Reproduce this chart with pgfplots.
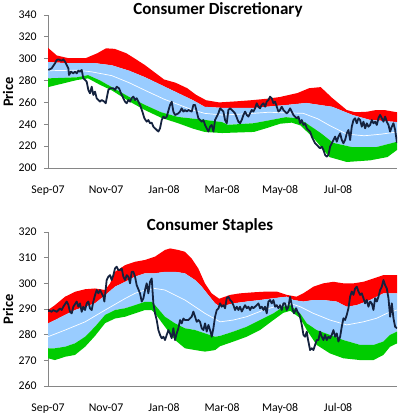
\documentclass[border=0pt]{standalone}
\usepackage{fontspec}
\setmainfont{Carlito}
\usepackage{pgfplots}
\pgfplotsset{compat=1.18}
\usepgfplotslibrary{fillbetween}
\definecolor{bbred}{RGB}{255,0,0}
\definecolor{bbgreen}{RGB}{0,204,0}
\definecolor{bbblue}{RGB}{153,204,255}
\definecolor{pricecol}{RGB}{20,34,62}
\definecolor{axgray}{RGB}{134,134,134}
\pgfplotsset{bb/.style={
  scale only axis, width=349bp, anchor=south west,
  xmin=0, xmax=12.03,
  axis lines*=left,
  axis line style={axgray, line width=0.8pt},
  xtick={0,2,4,6,8,10},
  xticklabels={Sep-07,Nov-07,Jan-08,Mar-08,May-08,Jul-08},
  xtick style={draw=none},
  ytick style={axgray, line width=0.8pt},
  tick align=outside,
  major tick length=4bp,
  ticklabel style={font=\fontsize{11.8bp}{13bp}\selectfont, text=black},
  /pgf/number format/assume math mode=true,
  xticklabel style={yshift=-10bp},
  yticklabel style={xshift=-4bp},
}}
\begin{document}
\begin{tikzpicture}
% ---------------- top ----------------
\begin{axis}[bb, at={(48bp,246bp)}, height=153bp, ymin=200, ymax=340, ytick={200,220,...,340}]
\addplot[draw=none, name path=RT] coordinates {(0,310) (0.3,303) (0.7,300.5) (1.3,300.5) (1.7,305) (2.0,309.5) (2.3,309) (2.7,305) (3.0,300) (3.35,294) (3.7,287) (4.0,281) (4.4,278) (4.8,273) (5.1,267) (5.45,262) (5.9,260) (6.5,261) (7.0,262) (7.6,263.5) (8.0,265) (8.6,268.6) (9.0,273) (9.4,274) (9.8,264) (10.3,253) (10.6,251) (11.0,251.5) (11.3,253) (11.6,253) (12.03,251)};
\addplot[draw=none, name path=BT] coordinates {(0,297) (0.6,296) (1.6,296) (2.2,294) (2.8,289) (3.35,283) (3.9,276) (4.48,268.6) (5.0,262) (5.4,256) (6.0,255) (7.1,255) (8.2,257.6) (8.9,259.5) (9.8,256) (10.5,248.5) (11.1,244) (11.6,243) (12.03,242)};
\addplot[draw=none, name path=BB] coordinates {(0,282) (1.0,283) (1.38,285) (1.8,280) (2.2,274) (2.8,265) (3.34,257.7) (3.9,251) (4.48,246.7) (5.4,244) (6.0,242) (6.2,239.5) (7.1,241) (7.7,244) (8.2,246.5) (8.6,245.5) (8.9,241) (9.4,232) (9.83,223) (10.5,219) (11.3,219) (12.03,224)};
\addplot[draw=none, name path=GB] coordinates {(0,274) (1.0,280.5) (1.38,282) (1.8,276) (2.2,271) (2.8,261) (3.34,253) (3.9,246) (4.48,241) (5.0,236) (5.4,233) (6.0,232) (7.1,233) (7.6,237) (8.0,240.5) (8.4,241.5) (8.7,239) (9.15,227.5) (9.7,210) (10.3,205.5) (11.1,207) (11.7,210) (12.03,216.5)};
\addplot[bbred, draw=none] fill between[of=RT and BT];
\addplot[bbblue, draw=none] fill between[of=BT and BB];
\addplot[bbgreen, draw=none] fill between[of=BB and GB];
\addplot[white, line width=0.7pt] coordinates {(0,289) (1.0,289.5) (1.5,288) (2.2,284.5) (2.8,278) (3.35,271) (4.0,263) (4.5,258) (5.0,253) (5.4,250) (6.0,248.5) (6.8,249.5) (7.6,251) (8.8,250) (9.3,245) (9.7,239) (10.3,231) (10.9,229.5) (11.5,231) (12.03,233)};
\addplot[pricecol, line width=1.8pt, line join=round] coordinates {
(0.011,289.7) (0.126,291.2) (0.241,295.8) (0.299,298.8) (0.356,299.4) (0.471,298.2) (0.529,299.4) (0.586,297.3) (0.644,294.3) (0.701,291.2) (0.724,285.1) (0.793,288.1) (0.874,286.6) (0.931,288.1) (0.989,286.6) (1.046,289.1) (1.103,288.1) (1.161,289.7) (1.218,282.1) (1.333,279.0) (1.391,271.4) (1.448,268.3) (1.506,274.4) (1.563,266.8) (1.621,269.9) (1.678,263.8) (1.793,260.7) (1.851,262.2) (1.943,260.7) (1.989,259.2) (2.080,271.4) (2.138,272.9) (2.253,272.9) (2.310,271.4) (2.368,274.4) (2.448,272.9) (2.517,268.3) (2.598,263.8) (2.655,260.7) (2.713,259.2) (2.770,262.2) (2.828,260.7) (2.885,263.8) (2.943,265.3) (3.000,262.2) (3.057,263.8) (3.115,260.7) (3.172,257.7) (3.253,251.6) (3.322,245.5) (3.402,242.4) (3.460,243.9) (3.517,240.9) (3.575,241.5) (3.632,237.8) (3.690,236.3) (3.747,234.8) (3.805,233.3) (3.862,236.3) (3.920,243.9) (3.977,247.0) (4.034,245.5) (4.092,247.0) (4.207,257.7) (4.264,260.7) (4.322,251.6) (4.379,248.5) (4.494,250.0) (4.552,251.6) (4.609,254.6) (4.667,251.6) (4.724,253.1) (4.782,251.6) (4.839,253.1) (4.954,251.6) (5.011,257.7) (5.069,257.7) (5.126,251.6) (5.184,245.5) (5.299,242.4) (5.356,243.9) (5.414,239.4) (5.471,236.3) (5.529,233.3) (5.586,237.8) (5.644,239.4) (5.701,233.3) (5.759,243.9) (5.874,250.0)
(5.931,254.6) (6.046,251.6) (6.103,243.9) (6.161,240.9) (6.218,253.1) (6.276,254.6) (6.391,251.6) (6.448,250.0) (6.563,242.4) (6.621,240.9) (6.678,243.9) (6.736,248.5) (6.793,251.6) (6.851,248.5) (6.908,247.0) (7.023,253.1) (7.080,251.6) (7.138,254.6) (7.195,259.2) (7.253,256.1) (7.310,254.6) (7.368,257.7) (7.425,259.2) (7.483,256.1) (7.540,260.7) (7.598,262.2) (7.655,265.3) (7.713,263.8) (7.770,259.2) (7.828,260.7) (7.885,256.1) (7.943,251.6) (8.000,253.1) (8.057,256.1) (8.115,253.1) (8.172,251.6) (8.230,250.0) (8.287,251.6) (8.345,254.6) (8.402,251.6) (8.460,248.5) (8.517,247.0) (8.575,245.5) (8.632,247.0) (8.690,240.9) (8.747,243.9) (8.805,239.4) (8.862,240.9) (8.920,236.3) (8.977,234.8) (9.034,233.3) (9.092,228.7) (9.149,225.6) (9.207,222.6) (9.264,221.1) (9.322,219.5) (9.379,218.0) (9.437,219.5) (9.494,216.5) (9.552,211.9) (9.609,210.4) (9.667,211.9) (9.724,219.5) (9.782,222.6) (9.839,225.6) (9.897,228.7) (9.954,224.1) (10.011,228.7) (10.069,231.7) (10.126,225.6) (10.184,222.6) (10.241,225.6) (10.299,231.7) (10.356,234.8) (10.414,225.6) (10.471,237.8) (10.529,243.9) (10.586,245.5) (10.644,240.9) (10.701,245.5) (10.759,243.9) (10.816,237.8) (10.874,242.4) (10.931,236.3) (10.989,240.9) (11.046,237.8) (11.103,239.4) (11.161,243.9) (11.218,240.9) (11.276,242.4) (11.333,239.4) (11.391,245.5) (11.448,248.5) (11.506,245.5) (11.563,242.4) (11.621,247.0) (11.678,242.4) (11.736,239.4) (11.793,233.3) (11.851,237.8) (11.908,240.9) (11.966,234.8) (12.03,223.0)};
\end{axis}
% ---------------- bottom ----------------
\begin{axis}[bb, at={(48bp,28bp)}, height=154bp, ymin=260, ymax=320, ytick={260,270,...,320}]
\addplot[draw=none, name path=RT] coordinates {(0,289.6) (0.24,291.5) (0.59,294.8) (0.93,296.7) (1.28,297.7) (1.62,298) (1.97,297.4) (2.14,300) (2.31,304.5) (2.66,307.1) (3.0,308.4) (3.34,309.1) (3.69,310.4) (3.86,311.7) (4.03,313) (4.21,313.6) (4.49,313) (4.72,312.3) (4.95,309.7) (5.18,305.8) (5.41,300) (5.64,296.1) (5.9,294) (6.28,295.5) (6.62,296.1) (7.08,296.5) (7.54,296.8) (7.89,296.8) (8.23,295.5) (8.57,294.8) (8.8,296.1) (9.15,298.7) (9.49,300) (9.84,300.6) (10.18,300) (10.53,300) (10.87,300.6) (11.22,301.9) (11.56,303.2) (12.03,303.2)};
\addplot[draw=none, name path=BT] coordinates {(0,284.4) (0.24,285.7) (0.59,287.7) (0.93,289.6) (1.28,290.9) (1.62,292.2) (1.97,295.4) (2.31,298.7) (2.66,300.6) (3.0,302.6) (3.34,303.9) (3.69,303.9) (4.03,304.5) (4.38,304.5) (4.72,303.9) (5.07,301.3) (5.3,298.7) (5.53,295.4) (5.76,292.2) (5.93,290.9) (6.39,292.2) (6.85,292.9) (7.31,293.5) (7.77,294.2) (8.23,294.8) (8.46,293.5) (8.8,292.9) (9.15,293.5) (9.49,293.5) (9.95,292.9) (10.3,290.9) (10.64,291.5) (11.1,293.5) (11.56,296.1) (12.03,296.1)};
\addplot[draw=none, name path=BB] coordinates {(0,274.7) (0.24,274.7) (0.59,275.3) (0.93,276.6) (1.28,279.2) (1.62,283.1) (1.97,287.7) (2.31,289.6) (2.66,290.3) (3.0,291.5) (3.34,292.8) (3.57,292.8) (3.69,291.5) (4.03,287) (4.38,284.4) (4.72,282.5) (5.07,281.8) (5.41,280.5) (5.76,279.2) (5.93,279.5) (6.39,281.2) (6.85,283.1) (7.31,285.7) (7.77,288.3) (8.11,290.9) (8.35,291.5) (8.69,288.3) (8.92,284.4) (9.26,281.8) (9.72,279.9) (10.18,277.9) (10.76,276) (11.22,276) (11.56,277.3) (11.79,279.9) (12.03,281.2)};
\addplot[draw=none, name path=GB] coordinates {(0,270.8) (0.24,270.1) (0.59,271.4) (0.93,272.1) (1.28,275.3) (1.62,279.5) (1.97,284.5) (2.31,286.3) (2.66,287) (3.0,288.3) (3.34,289.6) (3.57,289.6) (3.69,288.3) (4.03,283.1) (4.38,277.9) (4.72,274.7) (5.07,274) (5.41,273.4) (5.76,274) (5.93,275.5) (6.39,277.3) (6.85,279.2) (7.31,281.8) (7.77,285.7) (8.11,288.5) (8.35,289.3) (8.69,286.5) (8.92,281.8) (9.26,276) (9.72,272.7) (10.18,270.8) (10.76,270.1) (11.22,270.1) (11.56,272.1) (11.79,275.3) (12.03,276.6)};
\addplot[bbred, draw=none] fill between[of=RT and BT];
\addplot[bbblue, draw=none] fill between[of=BT and BB];
\addplot[bbgreen, draw=none] fill between[of=BB and GB];
\addplot[white, line width=0.7pt] coordinates {(0,279.2) (0.59,281.8) (1.28,285) (1.97,289.6) (2.66,294.1) (3.0,296.1) (3.34,297.4) (3.69,298) (4.03,297.4) (4.72,293.5) (5.41,288.3) (5.93,285) (6.39,285.7) (6.85,287) (7.43,289.6) (8.0,291.5) (8.35,292.2) (8.69,290.9) (9.15,288.3) (9.72,285.7) (10.3,283.8) (10.87,285) (11.33,286.4) (11.68,288.3) (12.03,289.6)};
\addplot[pricecol, line width=1.8pt, line join=round] coordinates {
(0.0,288.9) (0.011,289.6) (0.126,288.9) (0.184,289.6) (0.299,288.9) (0.414,290.2) (0.471,289.6) (0.529,290.9) (0.644,292.9) (0.701,291.6) (0.759,288.9) (0.816,288.3) (0.874,290.9) (0.989,292.9) (1.046,290.9) (1.103,292.2) (1.161,288.9) (1.218,290.9) (1.276,289.6) (1.333,292.2) (1.391,292.9) (1.448,290.2) (1.506,289.6) (1.563,292.9) (1.621,295.4) (1.678,297.4) (1.736,296.1) (1.793,297.4) (1.908,294.8) (1.943,292.9) (2.023,301.3) (2.080,302.6) (2.138,303.2) (2.195,301.3) (2.253,303.2) (2.310,305.8) (2.368,306.5) (2.425,305.2) (2.483,305.2) (2.540,305.8) (2.598,302.6) (2.655,301.3) (2.713,303.2) (2.770,302.6) (2.828,300.0) (2.885,304.5) (2.943,304.5) (3.000,302.6) (3.057,299.3) (3.172,296.1) (3.230,292.9) (3.287,294.1) (3.345,297.4) (3.402,300.0) (3.460,296.1) (3.517,300.6) (3.575,301.9) (3.632,292.2) (3.690,288.3) (3.747,285.7) (3.805,281.8) (3.862,279.9) (3.920,278.6) (3.977,279.2) (4.034,277.9) (4.092,279.9) (4.149,281.8) (4.207,280.5) (4.264,278.6) (4.322,282.5) (4.379,277.9) (4.437,280.5) (4.494,282.5) (4.552,285.7) (4.609,284.4) (4.667,286.3) (4.724,285.7) (4.839,285.7) (4.954,287.0) (5.011,289.0) (5.069,287.0) (5.126,285.0) (5.184,285.7) (5.241,285.0) (5.299,282.5) (5.356,281.8) (5.414,284.4) (5.471,281.2) (5.529,283.8) (5.586,281.8) (5.644,279.2) (5.701,282.5) (5.759,287.0) (5.816,289.6) (5.874,290.2)
(5.931,292.2) (5.989,290.9) (6.046,291.5) (6.103,290.3) (6.161,294.2) (6.218,294.8) (6.276,293.5) (6.333,292.9) (6.391,291.5) (6.448,289.6) (6.506,290.9) (6.563,289.6) (6.621,290.9) (6.678,289.0) (6.736,290.3) (6.793,291.5) (6.851,290.3) (6.908,290.9) (6.966,289.6) (7.023,290.9) (7.080,290.3) (7.195,291.5) (7.253,292.2) (7.310,290.3) (7.368,290.9) (7.425,289.6) (7.483,290.9) (7.540,288.3) (7.598,292.9) (7.655,293.5) (7.713,292.2) (7.770,293.5) (7.828,290.9) (7.885,291.5) (7.943,290.3) (8.000,291.5) (8.057,289.6) (8.115,292.2) (8.172,292.2) (8.230,289.6) (8.287,290.9) (8.345,294.8) (8.379,292.9) (8.437,289.6) (8.483,288.3) (8.552,290.3) (8.598,289.0) (8.667,287.7) (8.713,285.7) (8.759,283.1) (8.805,279.9) (8.862,279.2) (8.920,281.2) (8.954,278.6) (8.989,276.6) (9.034,274.0) (9.092,274.7) (9.149,274.0) (9.207,276.0) (9.264,277.9) (9.322,277.9) (9.379,281.2) (9.437,279.2) (9.494,277.9) (9.552,279.9) (9.609,277.9) (9.667,279.2) (9.724,278.6) (9.782,279.9) (9.839,281.8) (9.897,279.2) (9.954,280.5) (10.011,277.3) (10.069,279.2) (10.126,283.1) (10.184,286.4) (10.241,285.7) (10.299,287.7) (10.356,290.3) (10.414,294.8) (10.471,296.8) (10.529,295.5) (10.586,298.0) (10.644,298.7) (10.701,296.8) (10.759,295.5) (10.816,296.1) (10.874,294.2) (10.931,292.2) (10.989,293.5) (11.046,290.9) (11.103,292.9) (11.161,292.2) (11.218,289.6) (11.276,294.2) (11.333,292.9) (11.391,294.8) (11.448,297.4) (11.506,298.7) (11.563,301.3) (11.621,299.3) (11.678,298.0) (11.736,294.2) (11.793,287.0) (11.851,292.2) (11.908,286.4) (11.966,283.1) (12.03,282.5)};
\end{axis}
% titles and axis titles
\node[font=\fontsize{17bp}{19bp}\selectfont\bfseries] at (218bp,404bp) {Consumer Discretionary};
\node[font=\fontsize{17bp}{19bp}\selectfont\bfseries] at (210bp,188bp) {Consumer Staples};
\node[font=\fontsize{14.5bp}{16bp}\selectfont\bfseries, rotate=90] at (8bp,322bp) {Price};
\node[font=\fontsize{14.5bp}{16bp}\selectfont\bfseries, rotate=90] at (8bp,104.5bp) {Price};
\pgfresetboundingbox
\path[use as bounding box] (0,0) rectangle (400bp,414bp);
\end{tikzpicture}
\end{document}
